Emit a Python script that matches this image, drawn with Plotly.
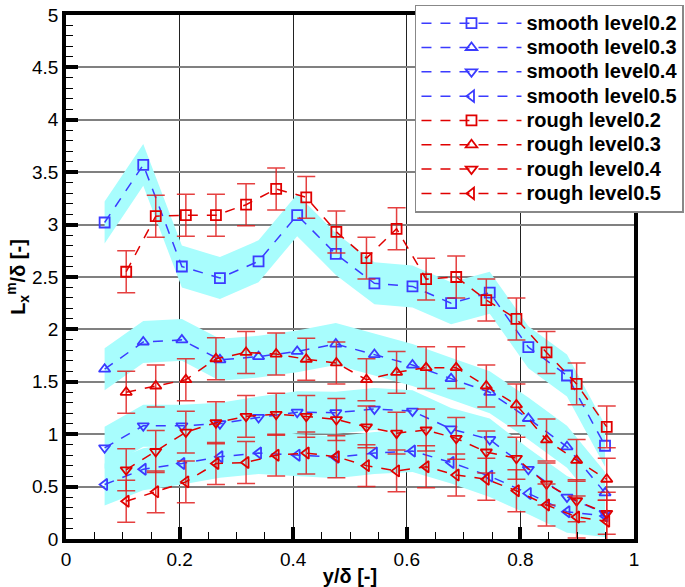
import plotly.graph_objects as go

# ---- data ----
x_smooth = [0.068, 0.136, 0.204, 0.271, 0.339, 0.407, 0.475, 0.543, 0.610, 0.678, 0.746, 0.814, 0.882, 0.949]
smooth_02 = [3.02, 3.57, 2.60, 2.49, 2.65, 3.09, 2.72, 2.44, 2.41, 2.25, 2.35, 1.83, 1.56, 0.89]
smooth_03 = [1.62, 1.88, 1.90, 1.71, 1.74, 1.79, 1.86, 1.76, 1.66, 1.53, 1.40, 1.15, 0.88, 0.44]
smooth_04 = [0.87, 1.08, 1.08, 1.10, 1.16, 1.21, 1.205, 1.24, 1.22, 1.05, 0.95, 0.665, 0.40, 0.245]
smooth_05 = [0.52, 0.665, 0.72, 0.785, 0.82, 0.80, 0.78, 0.82, 0.84, 0.73, 0.60, 0.435, 0.26, 0.22]
smooth_band = 0.2  # half-width of shaded band

x_rough = [0.106, 0.158, 0.211, 0.264, 0.317, 0.370, 0.423, 0.476, 0.529, 0.582, 0.634, 0.687, 0.740, 0.793, 0.846, 0.899, 0.952]
rough_02 = [2.55, 3.08, 3.09, 3.09, 3.19, 3.34, 3.26, 2.93, 2.68, 2.96, 2.48, 2.50, 2.28, 2.10, 1.78, 1.48, 1.07]
rough_03 = [1.40, 1.46, 1.52, 1.72, 1.78, 1.765, 1.715, 1.68, 1.52, 1.59, 1.635, 1.635, 1.46, 1.28, 0.945, 0.75, 0.57]
rough_04 = [0.66, 0.835, 1.02, 1.11, 1.17, 1.19, 1.17, 1.14, 1.07, 1.01, 1.04, 0.96, 0.83, 0.77, 0.525, 0.365, 0.245]
rough_05 = [0.36, 0.45, 0.545, 0.72, 0.73, 0.80, 0.82, 0.785, 0.70, 0.65, 0.69, 0.61, 0.57, 0.46, 0.325, 0.21, 0.17]
rough_err = 0.2

levels = ["0.2", "0.3", "0.4", "0.5"]
symbols = ["square-open", "triangle-up-open", "triangle-down-open", "triangle-left-open"]

BLUE = "#3b3bff"
RED = "#e00000"
CYAN = "#a8fdfd"
FONT = "Liberation Sans, Arial, sans-serif"


def legend_label(text):
    return '<span style="font-size:20px">' + text + '</span>'


fig = go.Figure()

smooth_sets = [smooth_02, smooth_03, smooth_04, smooth_05]
rough_sets = [rough_02, rough_03, rough_04, rough_05]

# shaded bands
for ys in smooth_sets:
    upper = [v + smooth_band for v in ys]
    lower = [v - smooth_band for v in ys]
    fig.add_trace(go.Scatter(
        x=x_smooth + x_smooth[::-1], y=upper + lower[::-1],
        fill="toself", fillcolor=CYAN, line=dict(width=0),
        mode="lines", showlegend=False, hoverinfo="skip"))

for lv, sym, ys in zip(levels, symbols, smooth_sets):
    fig.add_trace(go.Scatter(
        x=x_smooth, y=ys, mode="lines+markers", name=legend_label("smooth level" + lv),
        legendgroup="s" + lv,
        line=dict(color=BLUE, width=1.5, dash="10px,9px"),
        marker=dict(symbol=sym, size=10, color=BLUE, line=dict(color=BLUE, width=1.8))))

for lv, sym, ys in zip(levels, symbols, rough_sets):
    fig.add_trace(go.Scatter(
        x=x_rough, y=ys, mode="lines+markers", name=legend_label("rough level" + lv),
        legendgroup="r" + lv,
        line=dict(color=RED, width=1.5, dash="10px,9px"),
        error_y=dict(type="constant", value=rough_err, color="rgba(225,30,30,0.85)",
                     thickness=1.5, width=9),
        marker=dict(symbol=sym, size=10, color=RED, line=dict(color=RED, width=1.8))))

axis_common = dict(
    showline=True, linewidth=3.5, linecolor="black", mirror=True,
    ticks="inside", ticklen=12, tickwidth=3.5, tickcolor="black",
    tickfont=dict(family=FONT, size=19, color="black"),
    zeroline=False,
)

fig.update_xaxes(
    range=[0, 1], tickvals=[0, 0.2, 0.4, 0.6, 0.8, 1], ticktext=["0", "0.2", "0.4", "0.6", "0.8", "1"],
    showgrid=True, gridcolor="#222222", gridwidth=1,
    minor=dict(dtick=0.05, tick0=0, ticks="inside", ticklen=7, tickwidth=1.2, tickcolor="black", showgrid=False),
    title=dict(text="<b>y/δ [-]</b>", font=dict(family=FONT, size=20, color="black"), standoff=4),
    **axis_common)
fig.update_yaxes(
    range=[0, 5], dtick=0.5, tick0=0,
    showgrid=True, gridcolor="#808080", gridwidth=2,
    minor=dict(dtick=0.1, tick0=0, ticks="inside", ticklen=7, tickwidth=1.2, tickcolor="black", showgrid=False),
    title=dict(text="<b>L<sub>x</sub><sup>m</sup>/δ [-]</b>", font=dict(family=FONT, size=20, color="black"), standoff=1),
    **axis_common)

fig.update_layout(
    width=685, height=587,
    margin=dict(l=66, r=51, t=15, b=48, autoexpand=False),
    plot_bgcolor="white", paper_bgcolor="white",
    showlegend=True,
    legend=dict(
        x=0.6144, y=1.02, xanchor="left", yanchor="top",
        bgcolor="white", bordercolor="#888888", borderwidth=1.5,
        font=dict(family=FONT, size=16.4, color="black", weight="bold"),
        itemwidth=100, tracegroupgap=0, traceorder="normal",
    ),
)

fig.write_html("out.html", config={"displayModeBar": False},
               post_script="document.body.style.margin='0';")
